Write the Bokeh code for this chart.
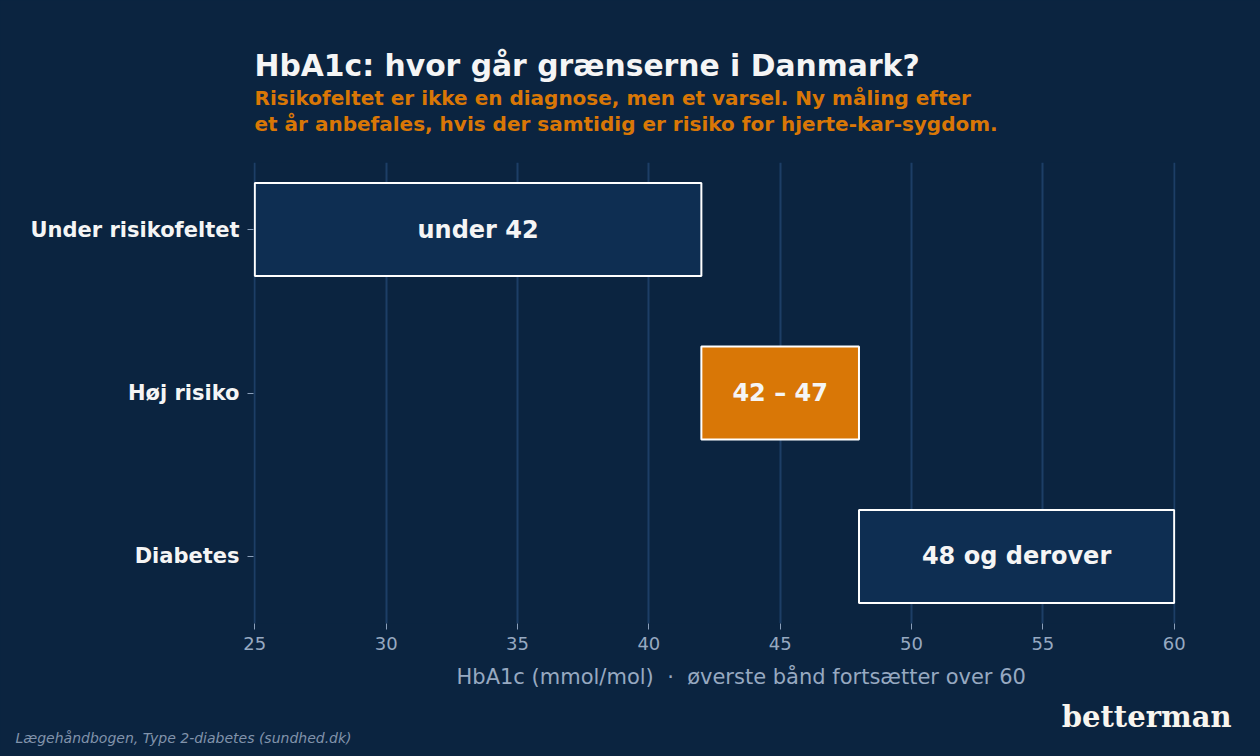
from bokeh.plotting import figure
from bokeh.models import FactorRange, Range1d, Title, ColumnDataSource, FixedTicker
from bokeh.core.properties import value
from bokeh.embed import file_html
from bokeh.resources import INLINE

# ---- data ----
categories = ["Under risikofeltet", "Høj risiko", "Diabetes"]
band_start = [25, 42, 48]
band_end = [42, 48, 60]
band_labels = ["under 42", "42 – 47", "48 og derover"]
band_colors = ["#0e2e52", "#d97706", "#0e2e52"]
x_ticks = [25, 30, 35, 40, 45, 50, 55, 60]

BG = "#0b2440"
FONT = "DejaVu Sans"
NB = "\u00a0"

src = ColumnDataSource(dict(
    cat=categories,
    left=band_start,
    right=band_end,
    mid=[(a + b) / 2 for a, b in zip(band_start, band_end)],
    label=band_labels,
    color=band_colors,
))

p = figure(
    width=1260, height=756,
    y_range=FactorRange(factors=categories[::-1], range_padding=-0.06, range_padding_units="percent"),
    x_range=Range1d(24.95, 60.05),
    output_backend="svg", toolbar_location=None,
    min_border_left=253, min_border_right=85, min_border_top=162, min_border_bottom=133,
    background_fill_color=BG, border_fill_color=BG,
    title=None,
)
p.outline_line_color = None
p.styles = {"background-color": BG}

p.hbar(y="cat", left="left", right="right", height=0.57, source=src,
       fill_color="color", line_color="white", line_width=2)
p.text(x="mid", y="cat", text="label", source=src,
       text_align="center", text_baseline="middle",
       text_font=value(FONT), text_font_style="bold",
       text_font_size="24px", text_color="#f5f5f5")

# axes
p.xaxis.ticker = FixedTicker(ticks=x_ticks)
p.xaxis.axis_line_color = None
p.xaxis.major_tick_line_color = "#8a9fba"
p.xaxis.major_tick_out = 6
p.xaxis.major_tick_in = 0
p.xaxis.minor_tick_line_color = None
p.xaxis.major_label_text_color = "#97a9c1"
p.xaxis.major_label_text_font = FONT
p.xaxis.major_label_text_font_size = "18px"
p.xaxis.major_label_standoff = 7
# leading no-break spaces nudge the centred label right, as in the reference
p.xaxis.axis_label = NB * 8 + f"HbA1c (mmol/mol){NB}{NB}·{NB}{NB}øverste bånd fortsætter over 60"
p.xaxis.axis_label_text_color = "#97a9c1"
p.xaxis.axis_label_text_font = FONT
p.xaxis.axis_label_text_font_style = "normal"
p.xaxis.axis_label_text_font_size = "21px"
p.xaxis.axis_label_standoff = 12

p.yaxis.axis_line_color = None
p.yaxis.major_tick_line_color = "#8a9fba"
p.yaxis.major_tick_out = 6
p.yaxis.major_tick_in = 0
p.yaxis.major_label_text_color = "#f5f5f5"
p.yaxis.major_label_text_font = FONT
p.yaxis.major_label_text_font_style = "bold"
p.yaxis.major_label_text_font_size = "21px"
p.yaxis.major_label_standoff = 8

p.xgrid.grid_line_color = "#1d3e66"
p.xgrid.grid_line_width = 2
p.ygrid.grid_line_color = None

# titles (first added sits nearest the plot frame)
def title(text, size, color, style, where, align="left", offset=0, standoff=0,
          font=FONT, valign="bottom"):
    try:
        t = Title(text=text, text_font=font, text_font_size=size, text_color=color,
                  text_font_style=style, align=align, offset=offset, standoff=standoff,
                  vertical_align=valign)
    except ValueError:
        t = Title(text=text, text_font=font, text_font_size=size, text_color=color,
                  text_font_style=style, align=align, offset=offset, standoff=0,
                  vertical_align=valign)
    p.add_layout(t, where)

title(NB, "2px", BG, "normal", "above", standoff=23)  # spacer above the frame
title("et år anbefales, hvis der samtidig er risiko for hjerte-kar-sygdom.", "20px", "#d97706", "bold", "above", offset=1)
title("Risikofeltet er ikke en diagnose, men et varsel. Ny måling efter", "20px", "#d97706", "bold", "above", offset=1)
title("HbA1c: hvor går grænserne i Danmark?", "29.8px", "#f5f5f5", "bold", "above", offset=1, standoff=1)

title("betterman", "29px", "#f8f5ef", "bold", "below", align="right", offset=-56, standoff=13, font="DejaVu Serif")
title("Lægehåndbogen, Type 2-diabetes (sundhed.dk)", "14px", "#8193ab", "italic", "below",
      offset=-238, standoff=-22, valign="top")

open("out.html", "w").write(file_html(p, INLINE))
